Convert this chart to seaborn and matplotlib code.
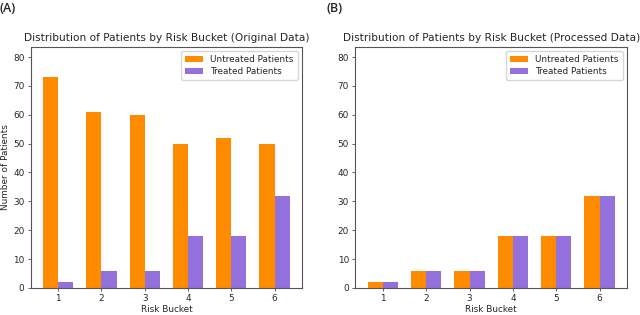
import pandas as pd
import matplotlib
matplotlib.use("Agg")
import matplotlib.pyplot as plt
import seaborn as sns

# data
buckets = ["1", "2", "3", "4", "5", "6"]
untreated_original = [73, 61, 60, 50, 52, 50]
treated_original = [2, 6, 6, 18, 18, 32]
untreated_processed = [2, 6, 6, 18, 18, 32]
treated_processed = [2, 6, 6, 18, 18, 32]

groups = ["Untreated Patients", "Treated Patients"]
colors = {"Untreated Patients": "darkorange", "Treated Patients": "mediumpurple"}


def long_df(untreated, treated):
    return pd.DataFrame({
        "bucket": buckets * 2,
        "count": untreated + treated,
        "group": [groups[0]] * len(buckets) + [groups[1]] * len(buckets),
    })


sns.set_style("ticks")
plt.rcParams["font.family"] = ["DejaVu Sans"]

fig = plt.figure(figsize=(6.4, 3.15), dpi=100)
ax1 = fig.add_axes([0.048, 0.086, 0.424, 0.765])
ax2 = fig.add_axes([0.555, 0.086, 0.425, 0.765])

panels = [
    (ax1, long_df(untreated_original, treated_original),
     "Distribution of Patients by Risk Bucket (Original Data)"),
    (ax2, long_df(untreated_processed, treated_processed),
     "Distribution of Patients by Risk Bucket (Processed Data)"),
]

for ax, df, title in panels:
    sns.barplot(data=df, x="bucket", y="count", hue="group", hue_order=groups,
                palette=colors, saturation=1, width=0.7, ax=ax,
                edgecolor="none", linewidth=0)
    ax.set_xlim(-0.635, 5.635)
    ax.set_ylim(0, 83.5)
    ax.set_yticks(range(0, 81, 10))
    ax.set_title(title, fontsize=7.6, pad=4)
    ax.set_xlabel("Risk Bucket", fontsize=6.4, labelpad=1.5)
    ax.set_ylabel("")
    ax.tick_params(labelsize=6.4, length=2.5, width=0.6, pad=2, color="#444444")
    for s in ax.spines.values():
        s.set_visible(True)
        s.set_color("#555555")
        s.set_linewidth(0.8)
    ax.legend(loc="upper right", fontsize=6.4, frameon=True,
              handlelength=2, borderpad=0.45, labelspacing=0.3)

ax1.set_ylabel("Number of Patients", fontsize=6.4, labelpad=2)

fig.text(0.0, 0.995, "(A)", fontsize=9, va="top", ha="left",
         family="Open Sans", fontweight="semibold")
fig.text(0.51, 0.995, "(B)", fontsize=9, va="top", ha="left",
         family="Open Sans", fontweight="semibold")

fig.savefig("out.png", dpi=100)
